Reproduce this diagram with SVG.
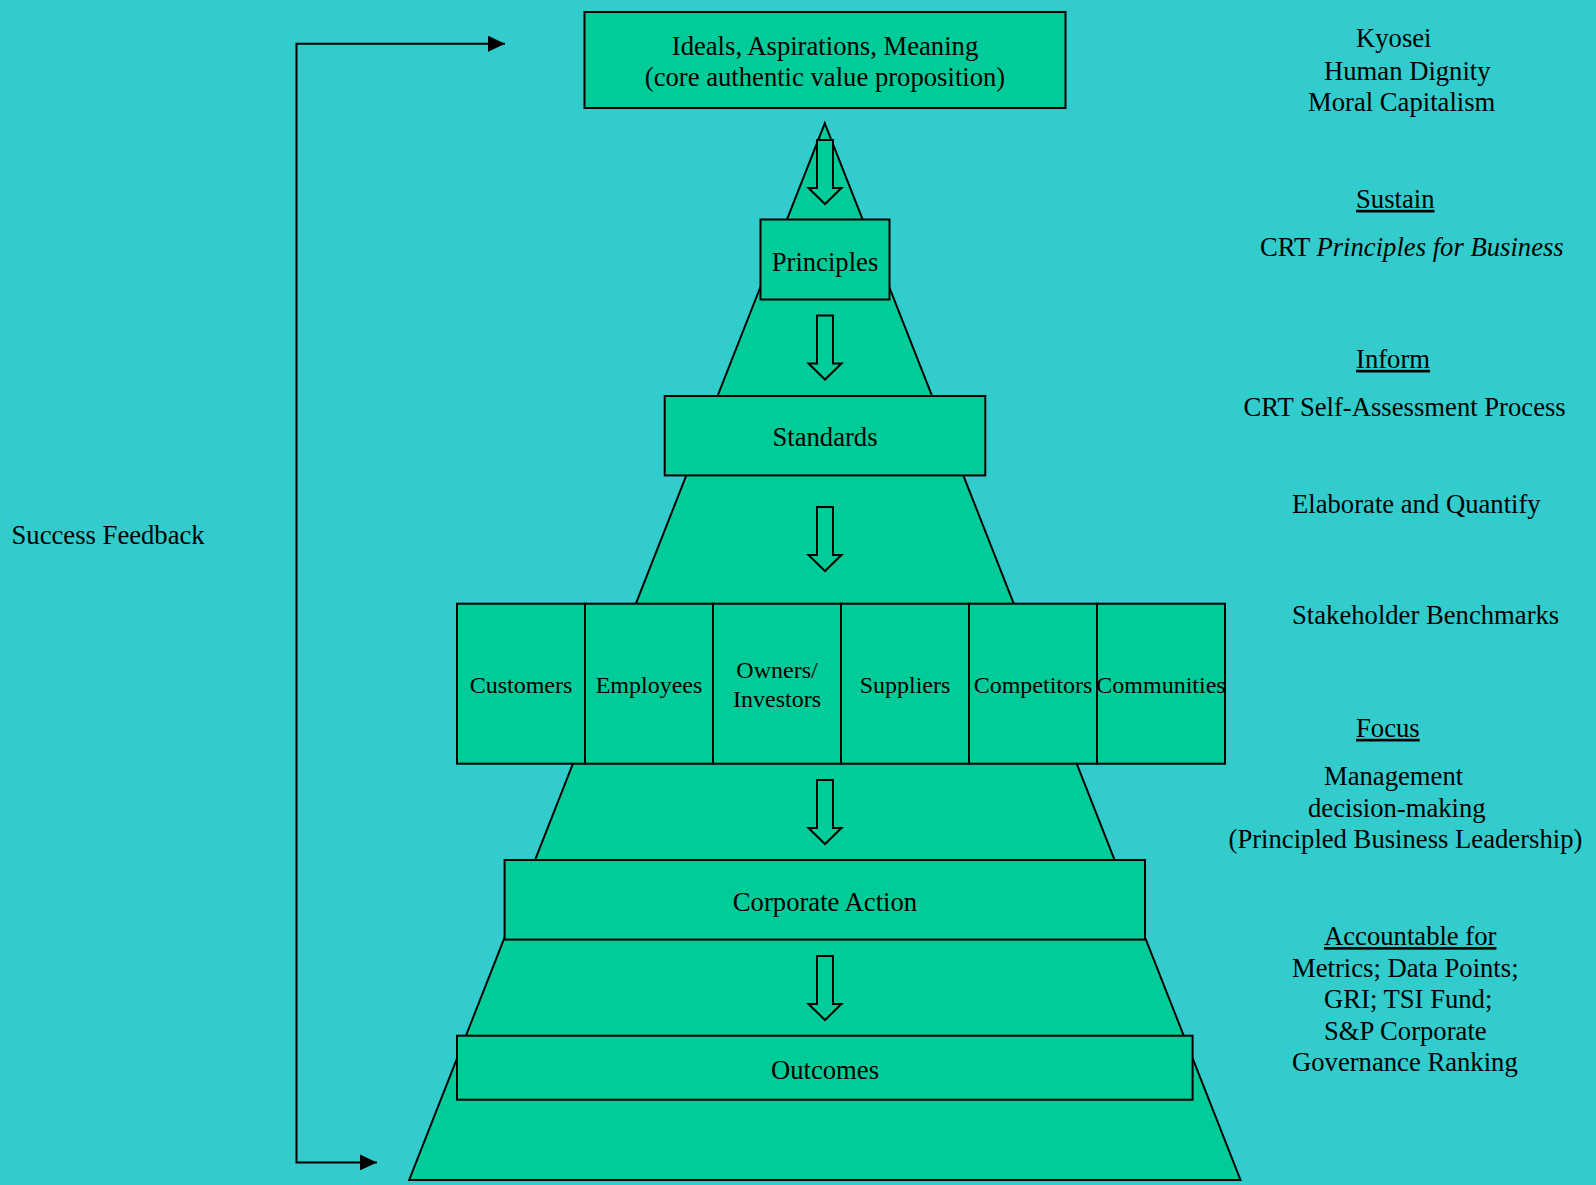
<svg xmlns="http://www.w3.org/2000/svg" xmlns:xlink="http://www.w3.org/1999/xlink" width="1596" height="1185" viewBox="0 0 1596 1185">
  <style>
    .bg { fill: #33CCCC; }
    .shape { fill: #00CC99; stroke: #000; stroke-width: 2; }
    .t { font-family: "Liberation Serif", "Times New Roman", serif; font-size: 26.67px; fill: #000; }
    .c { text-anchor: middle; }
    .s { font-size: 24px; }
    .u { text-decoration: underline; }
    .line { fill: none; stroke: #000; stroke-width: 2; }
  </style>
  <defs>
    <marker id="tip" markerUnits="userSpaceOnUse" markerWidth="17" markerHeight="16" refX="17" refY="8" orient="auto-start-reverse">
      <path d="M0,0 L17,8 L0,16 Z" fill="#000"/>
    </marker>
    <!-- hollow block arrow pointing down, origin at top centre -->
    <path id="down" class="shape" d="M-8,0 H8 V48 H16.5 L0,64 L-16.5,48 H-8 Z"/>
  </defs>

  <rect class="bg" x="0" y="0" width="1596" height="1185"/>

  <!-- pyramid body -->
  <polygon id="pyramid" class="shape" points="824.8,123.3 1240.5,1180 409.2,1180"/>

  <!-- connectors -->
  <g id="connectors">
    <path id="feedback" class="line" d="M505,43.7 H296.5 V1162.4 H377" marker-start="url(#tip)" marker-end="url(#tip)"/>
    <use xlink:href="#down" x="825" y="140"/>
    <use xlink:href="#down" x="825" y="315.5"/>
    <use xlink:href="#down" x="825" y="507"/>
    <use xlink:href="#down" x="825" y="780"/>
    <use xlink:href="#down" x="825" y="956"/>
  </g>

  <!-- nodes -->
  <g id="ideals">
    <rect class="shape" x="584.5" y="12" width="481" height="96"/>
    <text class="t c" x="825" y="54.7">Ideals, Aspirations, Meaning</text>
    <text class="t c" x="825" y="86.3">(core authentic value proposition)</text>
  </g>
  <g id="principles">
    <rect class="shape" x="760.5" y="219.5" width="129" height="80"/>
    <text class="t c" x="825" y="270.7">Principles</text>
  </g>
  <g id="standards">
    <rect class="shape" x="664.7" y="396" width="320.6" height="79.4"/>
    <text class="t c" x="825" y="446.3">Standards</text>
  </g>
  <g id="stakeholders">
    <g id="customers">
      <rect class="shape" x="457" y="603.7" width="128" height="160"/>
      <text class="t s c" x="521" y="693.3">Customers</text>
    </g>
    <g id="employees">
      <rect class="shape" x="585" y="603.7" width="128" height="160"/>
      <text class="t s c" x="649" y="693.3">Employees</text>
    </g>
    <g id="owners">
      <rect class="shape" x="713" y="603.7" width="128" height="160"/>
      <text class="t s c" x="777" y="678.3">Owners/</text>
      <text class="t s c" x="777" y="707.3">Investors</text>
    </g>
    <g id="suppliers">
      <rect class="shape" x="841" y="603.7" width="128" height="160"/>
      <text class="t s c" x="905" y="693.3">Suppliers</text>
    </g>
    <g id="competitors">
      <rect class="shape" x="969" y="603.7" width="128" height="160"/>
      <text class="t s c" x="1033" y="693.3">Competitors</text>
    </g>
    <g id="communities">
      <rect class="shape" x="1097" y="603.7" width="128" height="160"/>
      <text class="t s c" x="1161" y="693.3">Communities</text>
    </g>
  </g>
  <g id="corporate-action">
    <rect class="shape" x="504.6" y="860" width="640.4" height="79.6"/>
    <text class="t c" x="825" y="910.7">Corporate Action</text>
  </g>
  <g id="outcomes">
    <rect class="shape" x="457" y="1035.7" width="735.6" height="64"/>
    <text class="t c" x="825" y="1078.7">Outcomes</text>
  </g>

  <!-- side annotations -->
  <g id="feedback-label">
    <text class="t" x="11.5" y="543.7">Success Feedback</text>
  </g>
  <g id="annotations">
    <text class="t" x="1356" y="47.2">Kyosei</text>
    <text class="t" x="1324" y="79.5">Human Dignity</text>
    <text class="t" x="1308" y="111.2">Moral Capitalism</text>

    <text class="t u" x="1356" y="207.8">Sustain</text>
    <text class="t" x="1260" y="256.2">CRT <tspan font-style="italic">Principles for Business</tspan></text>

    <text class="t u" x="1356" y="367.8">Inform</text>
    <text class="t" x="1243.5" y="415.5">CRT Self-Assessment Process</text>

    <text class="t" x="1292" y="513.2">Elaborate and Quantify</text>

    <text class="t" x="1292" y="624.3">Stakeholder Benchmarks</text>

    <text class="t u" x="1356" y="736.8">Focus</text>
    <text class="t" x="1324" y="784.5">Management</text>
    <text class="t" x="1308" y="816.5">decision-making</text>
    <text class="t" x="1228.5" y="848">(Principled Business Leadership)</text>

    <text class="t u" x="1324" y="945">Accountable for</text>
    <text class="t" x="1292" y="976.5">Metrics; Data Points;</text>
    <text class="t" x="1324" y="1007.6">GRI; TSI Fund;</text>
    <text class="t" x="1324" y="1039.5">S&amp;P Corporate</text>
    <text class="t" x="1292" y="1071.4">Governance Ranking</text>
  </g>
</svg>
